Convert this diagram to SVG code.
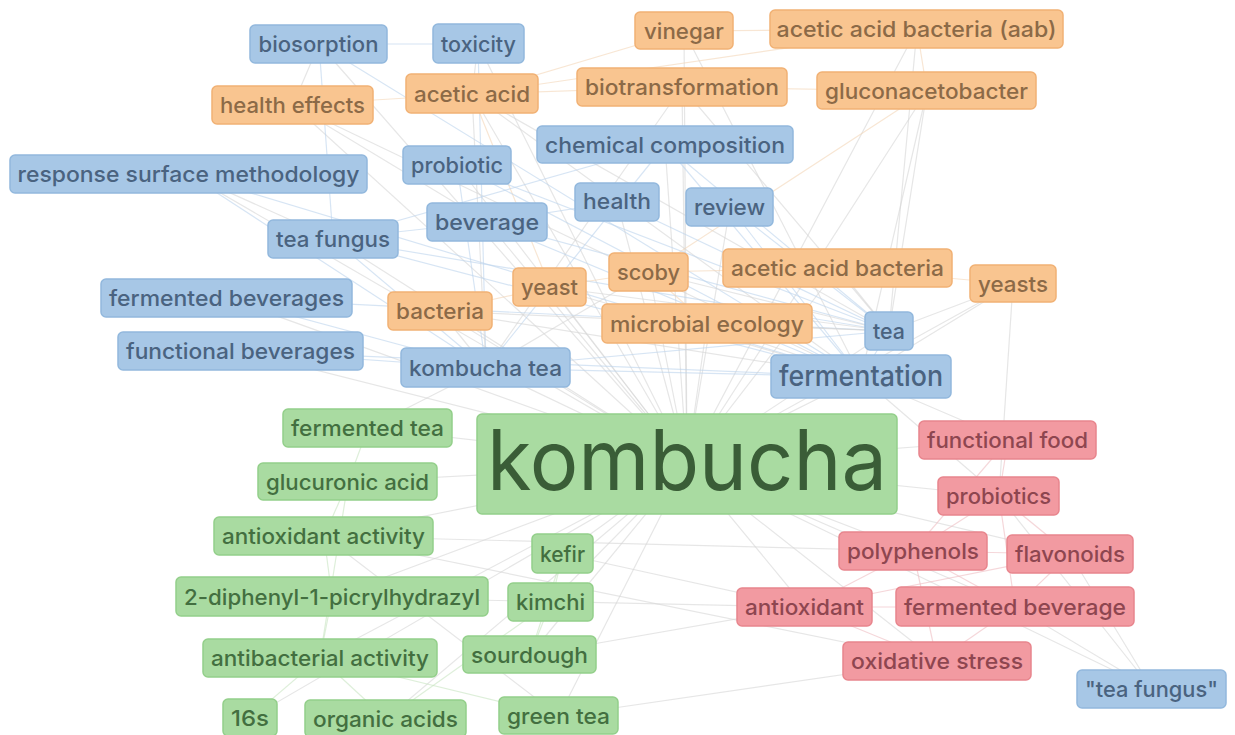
<svg xmlns="http://www.w3.org/2000/svg" width="1235" height="735" viewBox="0 0 1235 735">
<style>
text{font-family:Inter,"Liberation Sans",sans-serif;font-size:22px;text-anchor:middle;font-weight:500}
rect{stroke-width:1.5}
.b rect{fill:#a7c7e6;stroke:#92b8dd}
.b text{fill:#4a6380}
.o rect{fill:#f9c590;stroke:#f1b174}
.o text{fill:#8c6a47}
.g rect{fill:#a9dba1;stroke:#93cf8a}
.g text{fill:#436f40}
.r rect{fill:#f29aa1;stroke:#e8858d}
.r text{fill:#8e4650}
#edges line{stroke-width:1.2;fill:none;stroke-opacity:0.6}
.e{stroke:#d6d6d6}
.eb{stroke:#bcd3ec}
.eo{stroke:#f4d6b8}
.eg{stroke:#c8e4c2}
.er{stroke:#efbcc1}
</style>
<rect x="0" y="0" width="1235" height="735" fill="#ffffff" stroke="none"/>
<g id="edges">
<line class="e" x1="687" y1="464" x2="478" y2="44"/>
<line class="e" x1="687" y1="464" x2="188" y2="174"/>
<line class="e" x1="687" y1="464" x2="457" y2="165"/>
<line class="e" x1="687" y1="464" x2="665" y2="145"/>
<line class="e" x1="687" y1="464" x2="617" y2="202"/>
<line class="e" x1="687" y1="464" x2="730" y2="207"/>
<line class="e" x1="687" y1="464" x2="487" y2="222"/>
<line class="e" x1="687" y1="464" x2="333" y2="239"/>
<line class="e" x1="687" y1="464" x2="227" y2="298"/>
<line class="e" x1="687" y1="464" x2="241" y2="351"/>
<line class="e" x1="687" y1="464" x2="486" y2="368"/>
<line class="e" x1="687" y1="464" x2="889" y2="331"/>
<line class="e" x1="687" y1="464" x2="861" y2="377"/>
<line class="e" x1="687" y1="464" x2="1152" y2="689"/>
<line class="e" x1="687" y1="464" x2="684" y2="31"/>
<line class="e" x1="687" y1="464" x2="917" y2="29"/>
<line class="e" x1="687" y1="464" x2="472" y2="94"/>
<line class="e" x1="687" y1="464" x2="682" y2="87"/>
<line class="e" x1="687" y1="464" x2="927" y2="91"/>
<line class="e" x1="687" y1="464" x2="293" y2="105"/>
<line class="e" x1="687" y1="464" x2="550" y2="287"/>
<line class="e" x1="687" y1="464" x2="649" y2="272"/>
<line class="e" x1="687" y1="464" x2="838" y2="268"/>
<line class="e" x1="687" y1="464" x2="1013" y2="284"/>
<line class="e" x1="687" y1="464" x2="440" y2="311"/>
<line class="e" x1="687" y1="464" x2="707" y2="324"/>
<line class="e" x1="687" y1="464" x2="368" y2="428"/>
<line class="e" x1="687" y1="464" x2="348" y2="482"/>
<line class="e" x1="687" y1="464" x2="324" y2="536"/>
<line class="e" x1="687" y1="464" x2="563" y2="554"/>
<line class="e" x1="687" y1="464" x2="332" y2="597"/>
<line class="e" x1="687" y1="464" x2="551" y2="602"/>
<line class="e" x1="687" y1="464" x2="320" y2="658"/>
<line class="e" x1="687" y1="464" x2="530" y2="655"/>
<line class="e" x1="687" y1="464" x2="250" y2="718"/>
<line class="e" x1="687" y1="464" x2="386" y2="719"/>
<line class="e" x1="687" y1="464" x2="559" y2="716"/>
<line class="e" x1="687" y1="464" x2="1008" y2="440"/>
<line class="e" x1="687" y1="464" x2="999" y2="496"/>
<line class="e" x1="687" y1="464" x2="913" y2="551"/>
<line class="e" x1="687" y1="464" x2="1070" y2="554"/>
<line class="e" x1="687" y1="464" x2="805" y2="607"/>
<line class="e" x1="687" y1="464" x2="1015" y2="607"/>
<line class="e" x1="687" y1="464" x2="937" y2="661"/>
<line class="e" x1="687" y1="464" x2="319" y2="44"/>
<line class="eb" x1="319" y1="44" x2="478" y2="44"/>
<line class="e" x1="319" y1="44" x2="293" y2="105"/>
<line class="eb" x1="319" y1="44" x2="333" y2="239"/>
<line class="eb" x1="319" y1="44" x2="861" y2="377"/>
<line class="eo" x1="293" y1="105" x2="472" y2="94"/>
<line class="e" x1="293" y1="105" x2="487" y2="222"/>
<line class="e" x1="293" y1="105" x2="861" y2="377"/>
<line class="eb" x1="478" y1="44" x2="486" y2="368"/>
<line class="e" x1="478" y1="44" x2="472" y2="94"/>
<line class="eo" x1="684" y1="31" x2="917" y2="29"/>
<line class="eo" x1="684" y1="31" x2="472" y2="94"/>
<line class="e" x1="684" y1="31" x2="861" y2="377"/>
<line class="eo" x1="472" y1="94" x2="682" y2="87"/>
<line class="e" x1="472" y1="94" x2="861" y2="377"/>
<line class="e" x1="472" y1="94" x2="889" y2="331"/>
<line class="e" x1="472" y1="94" x2="486" y2="368"/>
<line class="eo" x1="472" y1="94" x2="550" y2="287"/>
<line class="eo" x1="682" y1="87" x2="927" y2="91"/>
<line class="e" x1="682" y1="87" x2="889" y2="331"/>
<line class="e" x1="682" y1="87" x2="486" y2="368"/>
<line class="e" x1="927" y1="91" x2="889" y2="331"/>
<line class="e" x1="927" y1="91" x2="861" y2="377"/>
<line class="eo" x1="927" y1="91" x2="917" y2="29"/>
<line class="eo" x1="927" y1="91" x2="649" y2="272"/>
<line class="e" x1="917" y1="29" x2="889" y2="331"/>
<line class="eo" x1="917" y1="29" x2="472" y2="94"/>
<line class="eb" x1="665" y1="145" x2="861" y2="377"/>
<line class="eb" x1="665" y1="145" x2="889" y2="331"/>
<line class="eb" x1="665" y1="145" x2="486" y2="368"/>
<line class="eb" x1="665" y1="145" x2="333" y2="239"/>
<line class="eb" x1="457" y1="165" x2="861" y2="377"/>
<line class="eb" x1="457" y1="165" x2="486" y2="368"/>
<line class="eb" x1="457" y1="165" x2="889" y2="331"/>
<line class="eb" x1="617" y1="202" x2="889" y2="331"/>
<line class="eb" x1="617" y1="202" x2="487" y2="222"/>
<line class="eb" x1="730" y1="207" x2="889" y2="331"/>
<line class="eb" x1="730" y1="207" x2="861" y2="377"/>
<line class="eb" x1="487" y1="222" x2="889" y2="331"/>
<line class="eb" x1="487" y1="222" x2="861" y2="377"/>
<line class="eb" x1="487" y1="222" x2="333" y2="239"/>
<line class="eb" x1="333" y1="239" x2="889" y2="331"/>
<line class="eb" x1="333" y1="239" x2="861" y2="377"/>
<line class="eb" x1="333" y1="239" x2="486" y2="368"/>
<line class="e" x1="333" y1="239" x2="188" y2="174"/>
<line class="eb" x1="188" y1="174" x2="861" y2="377"/>
<line class="eb" x1="188" y1="174" x2="486" y2="368"/>
<line class="eb" x1="227" y1="298" x2="486" y2="368"/>
<line class="eb" x1="227" y1="298" x2="889" y2="331"/>
<line class="eb" x1="241" y1="351" x2="486" y2="368"/>
<line class="eb" x1="241" y1="351" x2="861" y2="377"/>
<line class="eb" x1="486" y1="368" x2="861" y2="377"/>
<line class="eb" x1="486" y1="368" x2="889" y2="331"/>
<line class="e" x1="486" y1="368" x2="649" y2="272"/>
<line class="e" x1="550" y1="287" x2="889" y2="331"/>
<line class="eo" x1="550" y1="287" x2="649" y2="272"/>
<line class="eo" x1="550" y1="287" x2="440" y2="311"/>
<line class="e" x1="550" y1="287" x2="861" y2="377"/>
<line class="e" x1="649" y1="272" x2="889" y2="331"/>
<line class="eo" x1="649" y1="272" x2="838" y2="268"/>
<line class="eo" x1="649" y1="272" x2="707" y2="324"/>
<line class="e" x1="838" y1="268" x2="889" y2="331"/>
<line class="eo" x1="838" y1="268" x2="1013" y2="284"/>
<line class="e" x1="1013" y1="284" x2="889" y2="331"/>
<line class="e" x1="1013" y1="284" x2="999" y2="496"/>
<line class="e" x1="1013" y1="284" x2="861" y2="377"/>
<line class="e" x1="440" y1="311" x2="889" y2="331"/>
<line class="e" x1="440" y1="311" x2="486" y2="368"/>
<line class="e" x1="440" y1="311" x2="861" y2="377"/>
<line class="e" x1="707" y1="324" x2="889" y2="331"/>
<line class="e" x1="707" y1="324" x2="861" y2="377"/>
<line class="eb" x1="889" y1="331" x2="861" y2="377"/>
<line class="e" x1="861" y1="377" x2="1008" y2="440"/>
<line class="e" x1="861" y1="377" x2="999" y2="496"/>
<line class="e" x1="368" y1="428" x2="486" y2="368"/>
<line class="eg" x1="368" y1="428" x2="348" y2="482"/>
<line class="eg" x1="348" y1="482" x2="324" y2="536"/>
<line class="eg" x1="348" y1="482" x2="320" y2="658"/>
<line class="eg" x1="324" y1="536" x2="332" y2="597"/>
<line class="e" x1="324" y1="536" x2="913" y2="551"/>
<line class="eg" x1="332" y1="597" x2="320" y2="658"/>
<line class="e" x1="332" y1="597" x2="805" y2="607"/>
<line class="eg" x1="320" y1="658" x2="250" y2="718"/>
<line class="eg" x1="320" y1="658" x2="386" y2="719"/>
<line class="eg" x1="320" y1="658" x2="559" y2="716"/>
<line class="eg" x1="563" y1="554" x2="551" y2="602"/>
<line class="eg" x1="563" y1="554" x2="530" y2="655"/>
<line class="eg" x1="551" y1="602" x2="530" y2="655"/>
<line class="eg" x1="551" y1="602" x2="386" y2="719"/>
<line class="e" x1="530" y1="655" x2="805" y2="607"/>
<line class="e" x1="559" y1="716" x2="937" y2="661"/>
<line class="e" x1="559" y1="716" x2="324" y2="536"/>
<line class="e" x1="563" y1="554" x2="805" y2="607"/>
<line class="er" x1="1008" y1="440" x2="999" y2="496"/>
<line class="er" x1="1008" y1="440" x2="913" y2="551"/>
<line class="er" x1="999" y1="496" x2="913" y2="551"/>
<line class="er" x1="999" y1="496" x2="1070" y2="554"/>
<line class="er" x1="999" y1="496" x2="1015" y2="607"/>
<line class="e" x1="999" y1="496" x2="1152" y2="689"/>
<line class="er" x1="913" y1="551" x2="1070" y2="554"/>
<line class="er" x1="913" y1="551" x2="805" y2="607"/>
<line class="er" x1="913" y1="551" x2="1015" y2="607"/>
<line class="er" x1="913" y1="551" x2="937" y2="661"/>
<line class="er" x1="1070" y1="554" x2="805" y2="607"/>
<line class="er" x1="1070" y1="554" x2="1015" y2="607"/>
<line class="e" x1="1070" y1="554" x2="1152" y2="689"/>
<line class="er" x1="805" y1="607" x2="1015" y2="607"/>
<line class="er" x1="805" y1="607" x2="937" y2="661"/>
<line class="er" x1="1015" y1="607" x2="937" y2="661"/>
<line class="e" x1="1015" y1="607" x2="1152" y2="689"/>
<line class="e" x1="937" y1="661" x2="324" y2="536"/>
</g>
<g id="n-biosorption" class="b"><rect x="250" y="25" width="137" height="38" rx="5"/><text x="318.5" y="52" textLength="120" lengthAdjust="spacingAndGlyphs">biosorption</text></g>
<g id="n-toxicity" class="b"><rect x="433" y="24" width="91" height="39" rx="5"/><text x="478.5" y="52" textLength="75" lengthAdjust="spacingAndGlyphs">toxicity</text></g>
<g id="n-rsm" class="b"><rect x="10" y="155" width="357" height="38" rx="5"/><text x="188.5" y="182" textLength="342" lengthAdjust="spacingAndGlyphs">response surface methodology</text></g>
<g id="n-probiotic" class="b"><rect x="403" y="146" width="108" height="38" rx="5"/><text x="457" y="173" textLength="92" lengthAdjust="spacingAndGlyphs">probiotic</text></g>
<g id="n-chemical-composition" class="b"><rect x="537" y="126" width="256" height="37" rx="5"/><text x="665" y="152.5" textLength="240" lengthAdjust="spacingAndGlyphs">chemical composition</text></g>
<g id="n-health" class="b"><rect x="575" y="183" width="84" height="38" rx="5"/><text x="617" y="209" textLength="68" lengthAdjust="spacingAndGlyphs">health</text></g>
<g id="n-review" class="b"><rect x="686" y="188" width="87" height="38" rx="5"/><text x="729.5" y="215" textLength="71" lengthAdjust="spacingAndGlyphs">review</text></g>
<g id="n-beverage" class="b"><rect x="427" y="203" width="120" height="38" rx="5"/><text x="487" y="230" textLength="104" lengthAdjust="spacingAndGlyphs">beverage</text></g>
<g id="n-tea-fungus" class="b"><rect x="268" y="220" width="130" height="38" rx="5"/><text x="333" y="247" textLength="114" lengthAdjust="spacingAndGlyphs">tea fungus</text></g>
<g id="n-fermented-beverages" class="b"><rect x="101" y="279" width="251" height="38" rx="5"/><text x="226.5" y="306" textLength="235" lengthAdjust="spacingAndGlyphs">fermented beverages</text></g>
<g id="n-functional-beverages" class="b"><rect x="118" y="332" width="245" height="38" rx="5"/><text x="240.5" y="359" textLength="229" lengthAdjust="spacingAndGlyphs">functional beverages</text></g>
<g id="n-kombucha-tea" class="b"><rect x="401" y="348" width="169" height="39" rx="5"/><text x="485.5" y="375.5" textLength="153" lengthAdjust="spacingAndGlyphs">kombucha tea</text></g>
<g id="n-tea" class="b"><rect x="865" y="312" width="48" height="38" rx="5"/><text x="889" y="339" textLength="32" lengthAdjust="spacingAndGlyphs">tea</text></g>
<g id="n-fermentation" class="b"><rect x="771" y="355" width="180" height="43" rx="5"/><text x="861" y="385.5" style="font-size:29px" textLength="164" lengthAdjust="spacingAndGlyphs">fermentation</text></g>
<g id="n-tea-fungus-quoted" class="b"><rect x="1077" y="670" width="149" height="38" rx="5"/><text x="1151.5" y="697" textLength="133" lengthAdjust="spacingAndGlyphs">"tea fungus"</text></g>
<g id="n-vinegar" class="o"><rect x="635" y="12" width="98" height="37" rx="5"/><text x="684" y="38.5" textLength="80" lengthAdjust="spacingAndGlyphs">vinegar</text></g>
<g id="n-aab" class="o"><rect x="770" y="10" width="293" height="38" rx="5"/><text x="916.5" y="37" textLength="280" lengthAdjust="spacingAndGlyphs">acetic acid bacteria (aab)</text></g>
<g id="n-acetic-acid" class="o"><rect x="406" y="74" width="132" height="39" rx="5"/><text x="472" y="101.5" textLength="116" lengthAdjust="spacingAndGlyphs">acetic acid</text></g>
<g id="n-biotransformation" class="o"><rect x="577" y="68" width="210" height="38" rx="5"/><text x="682" y="95" textLength="194" lengthAdjust="spacingAndGlyphs">biotransformation</text></g>
<g id="n-gluconacetobacter" class="o"><rect x="817" y="72" width="219" height="37" rx="5"/><text x="926.5" y="98.5" textLength="203" lengthAdjust="spacingAndGlyphs">gluconacetobacter</text></g>
<g id="n-health-effects" class="o"><rect x="212" y="86" width="161" height="38" rx="5"/><text x="292.5" y="113" textLength="145" lengthAdjust="spacingAndGlyphs">health effects</text></g>
<g id="n-yeast" class="o"><rect x="513" y="268" width="73" height="38" rx="5"/><text x="549.5" y="295" textLength="57" lengthAdjust="spacingAndGlyphs">yeast</text></g>
<g id="n-scoby" class="o"><rect x="609" y="253" width="79" height="38" rx="5"/><text x="648.5" y="280" textLength="63" lengthAdjust="spacingAndGlyphs">scoby</text></g>
<g id="n-acetic-acid-bacteria" class="o"><rect x="723" y="249" width="229" height="38" rx="5"/><text x="837.5" y="276" textLength="213" lengthAdjust="spacingAndGlyphs">acetic acid bacteria</text></g>
<g id="n-yeasts" class="o"><rect x="970" y="265" width="86" height="37" rx="5"/><text x="1013" y="291.5" textLength="70" lengthAdjust="spacingAndGlyphs">yeasts</text></g>
<g id="n-bacteria" class="o"><rect x="388" y="292" width="104" height="38" rx="5"/><text x="440" y="319" textLength="88" lengthAdjust="spacingAndGlyphs">bacteria</text></g>
<g id="n-microbial-ecology" class="o"><rect x="602" y="304" width="210" height="39" rx="5"/><text x="707" y="331.5" textLength="194" lengthAdjust="spacingAndGlyphs">microbial ecology</text></g>
<g id="n-kombucha" class="g"><rect x="477" y="414" width="420" height="100" rx="5"/><text x="687" y="490" style="font-size:84px;fill:#3a5d37;font-weight:400" textLength="400" lengthAdjust="spacingAndGlyphs">kombucha</text></g>
<g id="n-fermented-tea" class="g"><rect x="283" y="409" width="169" height="38" rx="5"/><text x="367.5" y="436" textLength="153" lengthAdjust="spacingAndGlyphs">fermented tea</text></g>
<g id="n-glucuronic-acid" class="g"><rect x="258" y="463" width="179" height="37" rx="5"/><text x="347.5" y="489.5" textLength="163" lengthAdjust="spacingAndGlyphs">glucuronic acid</text></g>
<g id="n-antioxidant-activity" class="g"><rect x="214" y="517" width="219" height="38" rx="5"/><text x="323.5" y="544" textLength="203" lengthAdjust="spacingAndGlyphs">antioxidant activity</text></g>
<g id="n-kefir" class="g"><rect x="532" y="534" width="61" height="39" rx="5"/><text x="562.5" y="561.5" textLength="45" lengthAdjust="spacingAndGlyphs">kefir</text></g>
<g id="n-dpph" class="g"><rect x="176" y="577" width="312" height="39" rx="5"/><text x="332" y="604.5" textLength="296" lengthAdjust="spacingAndGlyphs">2-diphenyl-1-picrylhydrazyl</text></g>
<g id="n-kimchi" class="g"><rect x="508" y="583" width="85" height="38" rx="5"/><text x="550.5" y="610" textLength="69" lengthAdjust="spacingAndGlyphs">kimchi</text></g>
<g id="n-antibacterial-activity" class="g"><rect x="203" y="639" width="234" height="38" rx="5"/><text x="320" y="666" textLength="218" lengthAdjust="spacingAndGlyphs">antibacterial activity</text></g>
<g id="n-sourdough" class="g"><rect x="463" y="636" width="133" height="37" rx="5"/><text x="529.5" y="662.5" textLength="117" lengthAdjust="spacingAndGlyphs">sourdough</text></g>
<g id="n-16s" class="g"><rect x="223" y="699" width="54" height="37" rx="5"/><text x="250" y="725.5" textLength="38" lengthAdjust="spacingAndGlyphs">16s</text></g>
<g id="n-organic-acids" class="g"><rect x="305" y="700" width="161" height="37" rx="5"/><text x="385.5" y="726.5" textLength="145" lengthAdjust="spacingAndGlyphs">organic acids</text></g>
<g id="n-green-tea" class="g"><rect x="499" y="697" width="119" height="37" rx="5"/><text x="558.5" y="723.5" textLength="103" lengthAdjust="spacingAndGlyphs">green tea</text></g>
<g id="n-functional-food" class="r"><rect x="919" y="421" width="177" height="38" rx="5"/><text x="1007.5" y="448" textLength="161" lengthAdjust="spacingAndGlyphs">functional food</text></g>
<g id="n-probiotics" class="r"><rect x="938" y="477" width="121" height="38" rx="5"/><text x="998.5" y="504" textLength="105" lengthAdjust="spacingAndGlyphs">probiotics</text></g>
<g id="n-polyphenols" class="r"><rect x="839" y="532" width="148" height="38" rx="5"/><text x="913" y="559" textLength="132" lengthAdjust="spacingAndGlyphs">polyphenols</text></g>
<g id="n-flavonoids" class="r"><rect x="1007" y="535" width="126" height="38" rx="5"/><text x="1070" y="562" textLength="110" lengthAdjust="spacingAndGlyphs">flavonoids</text></g>
<g id="n-antioxidant" class="r"><rect x="737" y="588" width="135" height="38" rx="5"/><text x="804.5" y="615" textLength="119" lengthAdjust="spacingAndGlyphs">antioxidant</text></g>
<g id="n-fermented-beverage" class="r"><rect x="896" y="587" width="238" height="39" rx="5"/><text x="1015" y="614.5" textLength="222" lengthAdjust="spacingAndGlyphs">fermented beverage</text></g>
<g id="n-oxidative-stress" class="r"><rect x="843" y="642" width="188" height="38" rx="5"/><text x="937" y="669" textLength="172" lengthAdjust="spacingAndGlyphs">oxidative stress</text></g>
</svg>
